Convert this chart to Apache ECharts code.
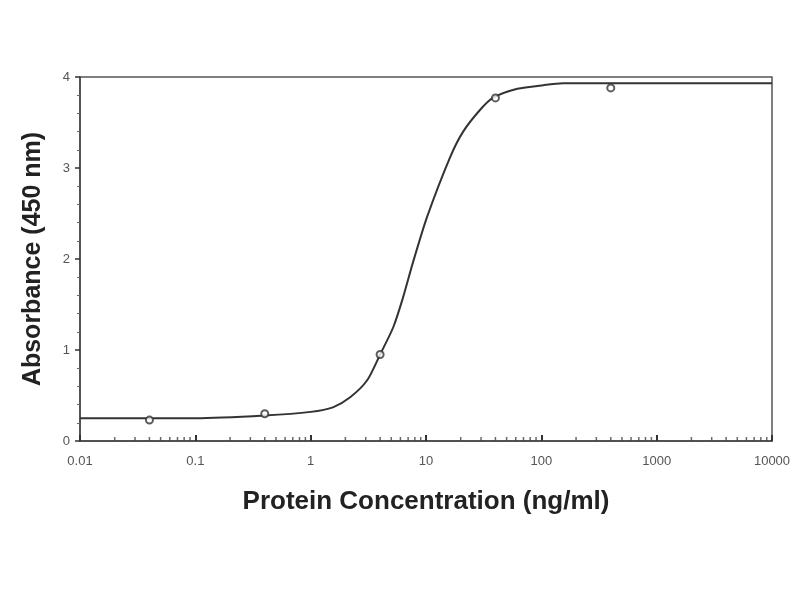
<!DOCTYPE html>
<html><head><meta charset="utf-8">
<script src="https://cdn.jsdelivr.net/npm/echarts@6/dist/echarts.min.js"></script>
<style>html,body{margin:0;padding:0;background:#fff}#c{width:800px;height:600px}</style>
</head><body><div id="c"></div>
<script>
// Measured standards (ng/ml, absorbance)
const pointConc = [0.04, 0.4, 4, 40, 400];
const pointAbs  = [0.23, 0.30, 0.95, 3.77, 3.88];
// Fitted curve
const curveConc = [0.01, 0.1, 0.4, 1, 1.56, 2.2, 3.1, 4.0, 5.2, 6.3, 7.7, 10.2, 16.2, 21, 29.5, 38, 62, 104, 155, 420, 10000];
const curveAbs  = [0.25, 0.25, 0.28, 0.32, 0.37, 0.48, 0.67, 0.95, 1.25, 1.57, 1.96, 2.46, 3.12, 3.40, 3.64, 3.77, 3.87, 3.91, 3.93, 3.93, 3.93];
// Axis ticks
const xTicks = [0.01, 0.1, 1, 10, 100, 1000, 10000];
const xMinorTicks = [];
xTicks.slice(0, -1).forEach(d => { for (let k = 2; k <= 9; k++) xMinorTicks.push(+(d * k).toPrecision(3)); });

const chart = echarts.init(document.getElementById('c'));
chart.setOption({
  backgroundColor: '#fff',
  animation: false,
  grid: { left: 80, right: 28, top: 77, bottom: 159, show: true, borderColor: '#555', borderWidth: 1.5 },
  xAxis: {
    type: 'log', logBase: 10, min: 0.01, max: 10000,
    name: 'Protein Concentration (ng/ml)', nameLocation: 'middle', nameGap: 48,
    nameTextStyle: { fontFamily: 'Liberation Sans', fontWeight: 'bold', fontSize: 26, color: '#222' },
    axisLine: { lineStyle: { color: '#444', width: 1.5 } },
    axisTick: { inside: true, length: 6, lineStyle: { color: '#333', width: 2 } },
    axisLabel: { fontFamily: 'Liberation Sans', fontSize: 13, color: '#555', margin: 14,
      formatter: v => { const r = xTicks.find(t => Math.abs(Math.log10(t) - Math.log10(v)) < 1e-6); return r === undefined ? '' : String(r); } },
    splitLine: { show: false }
  },
  yAxis: {
    type: 'value', min: 0, max: 4, interval: 1,
    name: 'Absorbance (450 nm)', nameLocation: 'middle', nameGap: 34,
    nameTextStyle: { fontFamily: 'Liberation Sans', fontWeight: 'bold', fontSize: 25, color: '#222' },
    axisLine: { show: true, lineStyle: { color: '#444', width: 1.5 } },
    axisTick: { show: true, length: 5, lineStyle: { color: '#333', width: 1.5 } },
    minorTick: { show: true, splitNumber: 5, length: 3, lineStyle: { color: '#666' } },
    axisLabel: { fontFamily: 'Liberation Sans', fontSize: 13, color: '#555', margin: 10 },
    splitLine: { show: false }
  },
  series: [
    {
      type: 'line', data: curveConc.map((c, i) => [c, curveAbs[i]]),
      smooth: 0.25, showSymbol: false, lineStyle: { color: '#333', width: 2 }, z: 2
    },
    {
      type: 'scatter', data: pointConc.map((c, i) => [c, pointAbs[i]]),
      symbol: 'emptyCircle', symbolSize: 7,
      itemStyle: { color: '#333', borderColor: '#333', borderWidth: 1.5 }, z: 3
    },
    {
      type: 'scatter', data: xMinorTicks.map(c => [c, 0]), silent: true,
      symbol: 'rect', symbolSize: [1.5, 4], symbolOffset: [0, -2],
      itemStyle: { color: '#444' }, z: 1
    }
  ]
});
</script></body></html>
